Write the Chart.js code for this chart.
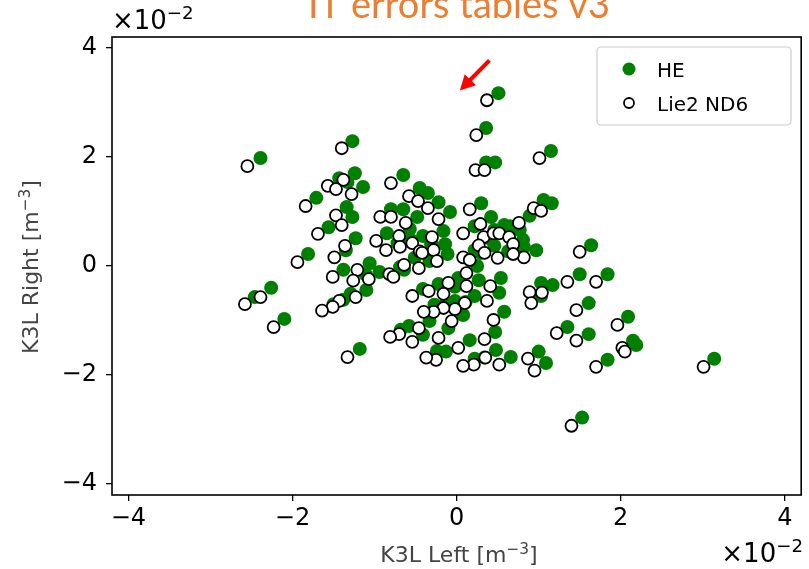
<!DOCTYPE html>
<html lang="en">
<head>
    <meta charset="UTF-8">
    <title>IT errors tables v3</title>
    <script src="https://cdn.jsdelivr.net/npm/chart.js"></script>
    <style>
        * { margin: 0; padding: 0; box-sizing: border-box; }
        body { background: #ffffff; width: 809px; height: 569px; overflow: hidden; }
        .chart-box { position: relative; width: 809px; height: 569px; }
    </style>
</head>
<body>
    <div class="chart-box">
        <canvas id="scatterChart"></canvas>
    </div>

    <script>
        // values in units of 1e-2 (as shown on the axes)
        const heX = [0.51, 0.36, 0.36, 0.47, 1.15, -1.27, -2.39, -1.24, -1.43, -1.14, -1.33, -0.65, -1.71, -1.34, -1.27,
            -1.56, -1.23, -1.81, -1.35, -1.38, -1.06, -0.94, -1.11, -0.69, -0.64, -0.51, -1.10, -1.29, -1.38, -1.50,
            -2.26, -2.46, -2.10, -1.18, -0.80, -0.65, -0.85, -0.57, -0.48, -0.45, -0.35, -0.22, -0.08, -0.41, -0.31,
            -0.72, -0.56, -0.16, -0.14, 0.30, 0.42, 1.06, 1.16, 0.22, 0.46, 0.58, 0.65, 0.89, 0.77, 0.81,
            0.40, 0.97, 0.82, 0.46, 0.63, 0.22, 0.29, -0.11, -0.29, -0.33, 0.25, 1.64, 1.50, 1.84, 1.61,
            2.09, 1.35, 1.61, 2.15, 2.19, 1.84, 1.00, 1.09, 3.14, 1.53, 1.03, 1.17, 1.03, -0.22, -0.41,
            0.02, 0.27, 0.54, 0.52, -0.02, 0.22, 0.11, -0.02, -0.14, -0.27, 0.08, 0.58, 0.47, -0.10, -0.33,
            -0.41, 0.16, -0.13, -0.24, 0.48, 0.34, 0.22, 0.66, -0.58, -0.68];
        const heY = [3.17, 2.53, 1.90, 1.90, 2.11, 2.29, 1.98, 1.70, 1.61, 1.45, 1.54, 1.67, 1.25, 1.08, 0.90,
            0.71, 0.51, 0.22, 0.29, -0.07, 0.05, -0.11, -0.15, -0.02, -0.07, 0.15, -0.44, -0.51, -0.62, -0.70,
            -0.40, -0.57, -0.97, -1.52, 1.04, 1.04, 0.60, 0.68, 0.90, 1.43, 1.34, 1.17, 0.99, 0.55, 0.40,
            0.42, 0.48, 0.64, 0.40, 1.15, 0.90, 1.21, 1.15, 0.73, 0.66, 0.75, 0.73, 0.92, 0.66, 0.48,
            0.51, 0.29, 0.35, 0.37, 0.27, 0.29, 0.24, 0.22, 0.37, 0.09, 0.00, 0.38, -0.15, -0.15, -0.68,
            -0.93, -1.12, -1.25, -1.37, -1.45, -1.72, -1.57, -1.78, -1.70, -2.78, -0.31, -0.35, -0.55, -0.33, -0.42,
            -0.22, -0.26, -0.22, -0.49, -0.38, -0.55, -0.66, -0.64, -0.71, -0.71, -0.90, -0.84, -1.21, -1.14, -1.01,
            -1.26, -1.36, -1.57, -1.56, -1.54, -1.68, -1.70, -1.67, -1.10, -1.17];
        const lieX = [0.37, 0.24, 0.23, 0.34, 1.01, -1.40, -2.55, -1.38, -1.57, -1.28, -1.47, -0.80, -1.84, -1.47, -1.40,
            -1.69, -1.36, -1.94, -1.49, -1.51, -1.21, -1.07, -1.26, -0.82, -0.77, -0.64, -1.23, -1.43, -1.51, -1.64,
            -2.39, -2.58, -2.23, -1.33, -0.93, -0.80, -0.98, -0.70, -0.62, -0.58, -0.47, -0.35, -0.22, -0.54, -0.45,
            -0.86, -0.69, -0.30, -0.28, 0.16, 0.29, 0.94, 1.03, 0.08, 0.33, 0.45, 0.52, 0.76, 0.64, 0.69,
            0.27, 0.82, 0.69, 0.34, 0.50, 0.08, 0.16, -0.24, -0.42, -0.46, 0.12, 1.50, 1.35, 1.70, 1.46,
            1.96, 1.22, 1.46, 2.02, 2.05, 1.70, 0.87, 0.95, 3.01, 1.40, 0.89, 1.04, 0.91, -0.34, -0.54,
            -0.10, 0.12, 0.41, 0.37, -0.16, 0.10, -0.02, -0.16, -0.28, -0.40, -0.06, 0.45, 0.34, -0.22, -0.46,
            -0.54, 0.02, -0.25, -0.37, 0.35, 0.21, 0.08, 0.52, -0.70, -0.81];
        const lieY = [3.04, 2.40, 1.76, 1.76, 1.98, 2.16, 1.83, 1.58, 1.47, 1.32, 1.41, 1.52, 1.10, 0.93, 0.75,
            0.59, 0.37, 0.07, 0.16, -0.20, -0.07, -0.24, -0.27, -0.15, -0.20, 0.02, -0.57, -0.64, -0.75, -0.82,
            -0.57, -0.70, -1.12, -1.67, 0.90, 0.90, 0.46, 0.55, 0.79, 1.28, 1.19, 1.06, 0.86, 0.42, 0.27,
            0.29, 0.35, 0.53, 0.29, 1.04, 0.77, 1.06, 1.01, 0.60, 0.53, 0.60, 0.60, 0.79, 0.53, 0.40,
            0.38, 0.16, 0.22, 0.24, 0.15, 0.16, 0.11, 0.09, 0.24, -0.04, -0.13, 0.26, -0.29, -0.29, -0.81,
            -1.08, -1.23, -1.37, -1.50, -1.57, -1.85, -1.70, -1.92, -1.85, -2.93, -0.48, -0.49, -0.68, -0.46, -0.55,
            -0.31, -0.37, -0.37, -0.64, -0.51, -0.68, -0.79, -0.77, -0.84, -0.84, -1.01, -0.99, -1.34, -1.32, -1.14,
            -1.39, -1.50, -1.72, -1.68, -1.68, -1.81, -1.83, -1.81, -1.25, -1.30];
        const tickValues = [-4, -2, 0, 2, 4];
        const axisLimits = [-4.2, 4.2];
        const seriesNames = ['HE', 'Lie2 ND6'];
        const titleText = 'IT errors tables v3';
        const arrowFrom = [0.40, 3.77];
        const arrowTo = [0.04, 3.22];

        const toPoints = (xs, ys) => xs.map((x, i) => ({ x: x, y: ys[i] }));
        const fmtTick = v => v < 0 ? '\u2212' + Math.abs(v) : String(v);

        // text with a superscript part, e.g. m^-3
        const drawRuns = (ctx, runs, x, y, size) => {
            let cx = x;
            runs.forEach(r => {
                const s = r.sup ? size * 0.7 : size;
                ctx.font = s + 'px "DejaVu Sans"';
                ctx.fillText(r.t, cx, r.sup ? y - size * 0.38 : y);
                cx += ctx.measureText(r.t).width;
            });
            return cx - x;
        };
        const runsWidth = (ctx, runs, size) => {
            let w = 0;
            runs.forEach(r => {
                ctx.font = (r.sup ? size * 0.7 : size) + 'px "DejaVu Sans"';
                w += ctx.measureText(r.t).width;
            });
            return w;
        };

        const decorPlugin = {
            id: 'decor',
            afterDraw(chart) {
                const ctx = chart.ctx;
                const a = chart.chartArea;
                const xs = chart.scales.x, ys = chart.scales.y;
                ctx.save();

                // frame
                ctx.strokeStyle = '#000';
                ctx.lineWidth = 1.6;
                ctx.strokeRect(a.left, a.top, a.right - a.left, a.bottom - a.top);

                // title (cut at top like the reference)
                ctx.fillStyle = '#ED7D31';
                ctx.font = '38px Lato';
                ctx.textAlign = 'center';
                ctx.textBaseline = 'alphabetic';
                ctx.fillText(titleText, 459, 18);

                // red arrow
                const x1 = xs.getPixelForValue(arrowFrom[0]), y1 = ys.getPixelForValue(arrowFrom[1]);
                const x2 = xs.getPixelForValue(arrowTo[0]), y2 = ys.getPixelForValue(arrowTo[1]);
                const ang = Math.atan2(y2 - y1, x2 - x1);
                ctx.strokeStyle = '#FF0000';
                ctx.fillStyle = '#FF0000';
                ctx.lineWidth = 4;
                ctx.beginPath();
                ctx.moveTo(x1, y1);
                ctx.lineTo(x2 - 8 * Math.cos(ang), y2 - 8 * Math.sin(ang));
                ctx.stroke();
                ctx.beginPath();
                ctx.moveTo(x2, y2);
                ctx.lineTo(x2 - 15 * Math.cos(ang) + 8 * Math.sin(ang), y2 - 15 * Math.sin(ang) - 8 * Math.cos(ang));
                ctx.lineTo(x2 - 15 * Math.cos(ang) - 8 * Math.sin(ang), y2 - 15 * Math.sin(ang) + 8 * Math.cos(ang));
                ctx.closePath();
                ctx.fill();

                // legend
                ctx.fillStyle = 'rgba(255,255,255,0.85)';
                ctx.strokeStyle = '#cccccc';
                ctx.lineWidth = 1.2;
                ctx.beginPath();
                ctx.roundRect(597, 47, 194, 78, 4);
                ctx.fill();
                ctx.stroke();
                ctx.beginPath();
                ctx.arc(629, 69, 6.5, 0, Math.PI * 2);
                ctx.fillStyle = '#008000';
                ctx.fill();
                ctx.beginPath();
                ctx.arc(629, 103, 5, 0, Math.PI * 2);
                ctx.fillStyle = '#fff';
                ctx.fill();
                ctx.strokeStyle = '#000';
                ctx.lineWidth = 1.8;
                ctx.stroke();
                ctx.fillStyle = '#000';
                ctx.textAlign = 'left';
                ctx.font = '20px "DejaVu Sans"';
                ctx.fillText(seriesNames[0], 657, 77);
                ctx.fillText(seriesNames[1], 657, 111);

                // axis labels
                ctx.fillStyle = '#444';
                const xl = [{ t: 'K3L Left [m' }, { t: '\u22123', sup: true }, { t: ']' }];
                const xw = runsWidth(ctx, xl, 22);
                drawRuns(ctx, xl, 459 - xw / 2, 562, 22);
                const yl = [{ t: 'K3L Right [m' }, { t: '\u22123', sup: true }, { t: ']' }];
                const yw = runsWidth(ctx, yl, 22);
                ctx.save();
                ctx.translate(38, 267);
                ctx.rotate(-Math.PI / 2);
                drawRuns(ctx, yl, -yw / 2, 0, 22);
                ctx.restore();

                // offset text x10^-2
                ctx.fillStyle = '#000';
                const off = [{ t: '\u00d710' }, { t: '\u22122', sup: true }];
                drawRuns(ctx, off, 112, 29, 26);
                const ow = runsWidth(ctx, off, 26);
                drawRuns(ctx, off, 803 - ow, 562, 26);

                ctx.restore();
            }
        };

        const initChart = () => {
            const c = document.getElementById('scatterChart');
            c.width = 809;
            c.height = 569;
            const tickOpts = {
                color: '#000',
                font: { family: 'DejaVu Sans', size: 24 },
                callback: v => fmtTick(v)
            };
            new Chart(c.getContext('2d'), {
                type: 'scatter',
                data: {
                    datasets: [
                        {
                            label: seriesNames[1],
                            data: toPoints(lieX, lieY),
                            backgroundColor: '#ffffff',
                            borderColor: '#000000',
                            borderWidth: 1.8,
                            pointRadius: 6
                        },
                        {
                            label: seriesNames[0],
                            data: toPoints(heX, heY),
                            backgroundColor: '#008000',
                            borderColor: '#008000',
                            borderWidth: 0,
                            pointRadius: 7
                        }
                    ]
                },
                options: {
                    responsive: false,
                    animation: false,
                    layout: { padding: { left: 0, right: 4, top: 37, bottom: 0 } },
                    plugins: {
                        legend: { display: false },
                        tooltip: { enabled: false },
                        title: { display: false }
                    },
                    scales: {
                        x: {
                            type: 'linear',
                            min: axisLimits[0],
                            max: axisLimits[1],
                            afterBuildTicks: s => { s.ticks = tickValues.map(v => ({ value: v })); },
                            afterFit: s => { s.height = 74; },
                            grid: { display: true, drawOnChartArea: false, drawTicks: true, tickLength: 6, color: '#000', lineWidth: 1.3 },
                            border: { display: false },
                            ticks: Object.assign({ padding: 3, maxRotation: 0 }, tickOpts)
                        },
                        y: {
                            type: 'linear',
                            min: axisLimits[0],
                            max: axisLimits[1],
                            afterBuildTicks: s => { s.ticks = tickValues.map(v => ({ value: v })); },
                            afterFit: s => { s.width = 112; },
                            grid: { display: true, drawOnChartArea: false, drawTicks: true, tickLength: 6, color: '#000', lineWidth: 1.3 },
                            border: { display: false },
                            ticks: Object.assign({ padding: 9 }, tickOpts)
                        }
                    }
                },
                plugins: [decorPlugin]
            });
        };

        document.addEventListener('DOMContentLoaded', initChart);
    </script>
</body>
</html>
